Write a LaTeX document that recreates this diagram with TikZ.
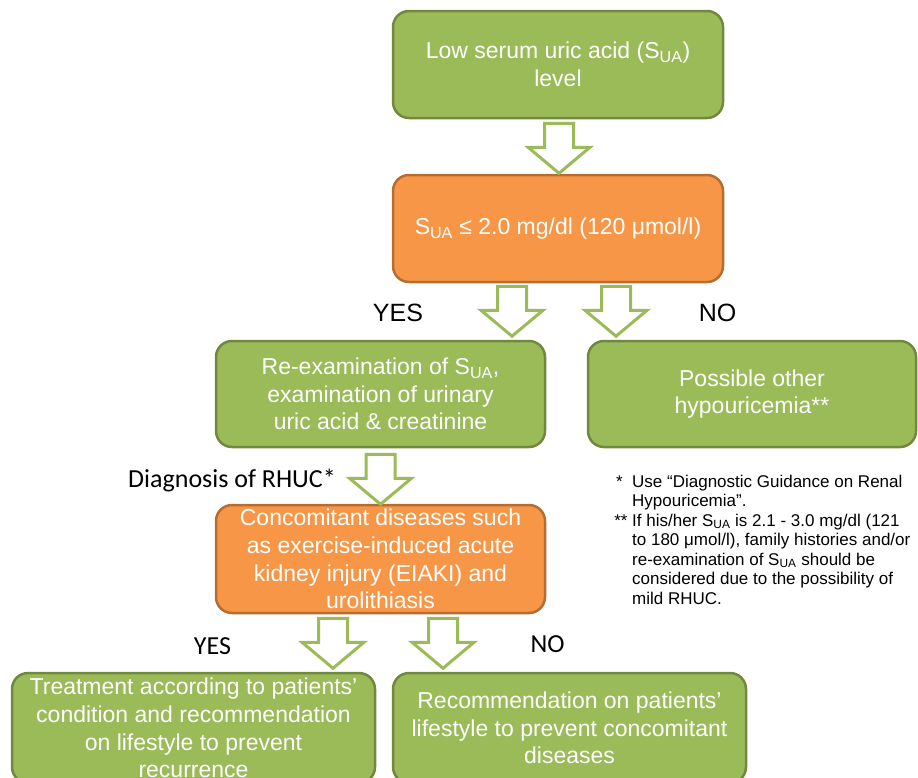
\documentclass[tikz,border=0pt]{standalone}
\usepackage{fontspec}
\setmainfont{Liberation Sans}
\newfontfamily\calfont{Carlito}
\usetikzlibrary{calc}
\definecolor{gfill}{HTML}{9BBB59}
\definecolor{gline}{HTML}{71893F}
\definecolor{ofill}{HTML}{F79646}
\definecolor{oline}{HTML}{B66D31}
\begin{document}
\begin{tikzpicture}[x=1pt,y=-1pt,
  box/.style={rounded corners=16pt, line width=2.5pt, inner sep=0pt, minimum height=107pt},
  gbox/.style={box, fill=gfill, draw=gline},
  obox/.style={box, fill=ofill, draw=oline},
  boxtext/.style={text=white, align=center, font=\fontsize{23}{27.6}\selectfont, inner sep=0pt},
  arial/.style={font=\fontsize{25}{30}\selectfont, inner sep=0pt, anchor=base},
  cal/.style={font=\calfont\fontsize{26}{31}\selectfont, inner sep=0pt, anchor=base},
  note/.style={font=\fontsize{17}{19.5}\selectfont, inner sep=0pt, anchor=base west},
  blockarrow/.pic={\draw[draw=gfill, fill=white, line width=3pt, miter limit=10]
    (-14.5,0) -- (14.5,0) -- (14.5,24) -- (31,24) -- (0,50) -- (-31,24) -- (-14.5,24) -- cycle;}
]
\useasboundingbox (0,0) rectangle (918,777);

% boxes
\node[gbox, minimum width=330pt] (b1) at (558,64.5) {};
\node[boxtext] (t1) at (b1.center) {Low serum uric acid (S\textsubscript{UA})\\level};

\node[obox, minimum width=330pt] (b2) at (558,228.5) {};
\node[boxtext] (t2) at (b2.center) {S\textsubscript{UA} ≤ 2.0 mg/dl (120 μmol/l)};

\node[gbox, minimum width=329pt, minimum height=106pt] (b3) at (380.5,394) {};
\node[boxtext] (t3) at (b3.center) {Re-examination of S\textsubscript{UA},\\examination of urinary\\uric acid \& creatinine};

\node[gbox, minimum width=328pt, minimum height=106pt] (b4) at (752,394) {};
\node[boxtext] (t4) at (b4.center) {Possible other\\hypouricemia**};

\node[obox, minimum width=329pt, minimum height=108pt] (b5) at (380.5,559) {};
\node[boxtext] (t5) at (b5.center) {Concomitant diseases such\\as exercise-induced acute\\kidney injury (EIAKI) and\\urolithiasis};

\node[gbox, minimum width=363pt, minimum height=110pt] (b6) at (193.5,728) {};
\node[boxtext] (t6) at (b6.center) {Treatment according to patients’\\condition and recommendation\\on lifestyle to prevent\\recurrence};

\node[gbox, minimum width=353pt, minimum height=110pt] (b7) at (569.5,728) {};
\node[boxtext] (t7) at (b7.center) {Recommendation on patients’\\lifestyle to prevent concomitant\\diseases};

% block arrows
\pic at ($(b1.south)+(1,4)$) {blockarrow};
\pic at ($(b2.south)+(-46,3)$) {blockarrow};
\pic at ($(b2.south)+(58,3)$) {blockarrow};
\pic at ($(b3.south)+(0,6)$) {blockarrow};
\pic at ($(b5.south)+(-47.5,4)$) {blockarrow};
\pic at ($(b5.south)+(62.5,4)$) {blockarrow};

% labels
\node[arial] (yes1) at (398,321) {YES};
\node[arial] (no1) at (717.5,321) {NO};
\node[cal] (diag) at (232,487) {Diagnosis of RHUC*};
\node[cal] (yes2) at (212.5,654) {YES};
\node[cal] (no2) at (547.5,652) {NO};

% notes
\node[note] (n1) at (632,487) {\llap{*\ \ }Use “Diagnostic Guidance on Renal};
\node[note] (n2) at (632,506.5) {Hypouricemia”.};
\node[note] (n3) at (632,526) {\llap{**\ }If his/her S\textsubscript{UA} is 2.1 - 3.0 mg/dl (121};
\node[note] (n4) at (632,545.5) {to 180 μmol/l), family histories and/or};
\node[note] (n5) at (632,565) {re-examination of S\textsubscript{UA} should be};
\node[note] (n6) at (632,584.5) {considered due to the possibility of};
\node[note] (n7) at (632,604) {mild RHUC.};
\end{tikzpicture}
\end{document}
